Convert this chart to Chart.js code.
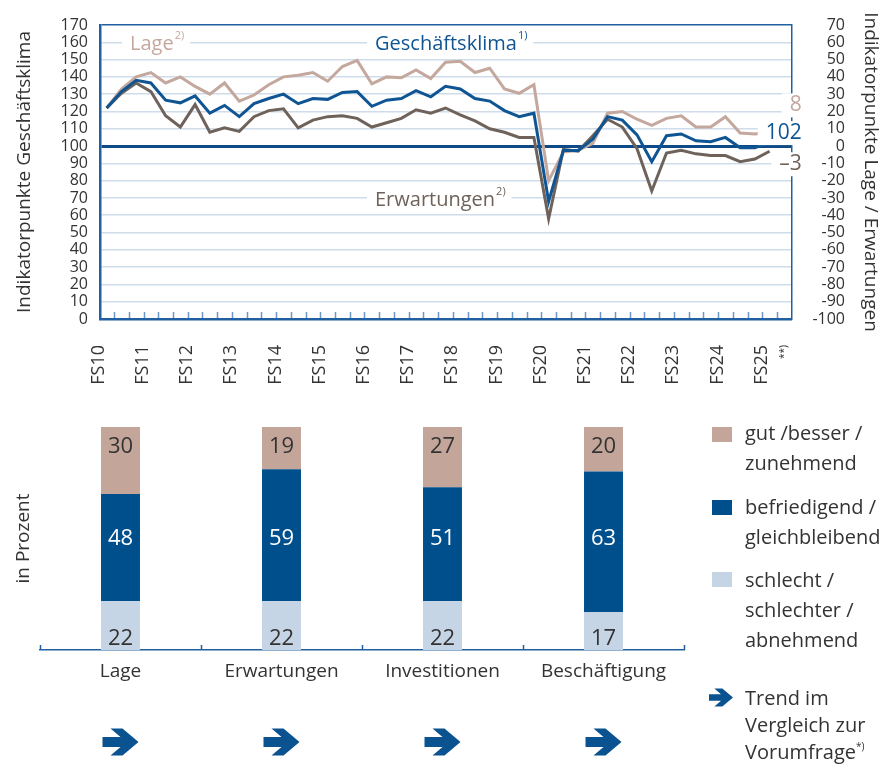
<!DOCTYPE html>
<html lang="de">
<head>
<meta charset="utf-8">
<script src="https://cdn.jsdelivr.net/npm/chart.js@4.4.1/dist/chart.umd.min.js"></script>
<style>
  html, body { margin: 0; padding: 0; background: #fff; }
  body { width: 896px; height: 767px; position: relative; overflow: hidden; font-family: "Open Sans", sans-serif; color: #333; }
  #topWrap { position: absolute; left: 0; top: 0; width: 896px; height: 400px; }
  #barWrap { position: absolute; left: 0; top: 400px; width: 896px; height: 367px; }
  .sw { position: absolute; left: 712px; width: 20px; height: 15px; }
  .lg { position: absolute; left: 745px; font-size: 20px; line-height: 30px; white-space: nowrap; color: #333; }
  .lg sup { font-size: 10px; vertical-align: 9px; line-height: 0; }
  #trendArrow { position: absolute; left: 709px; top: 688px; }
</style>
</head>
<body>
<div id="topWrap"><canvas id="klimaChart"></canvas></div>
<div id="barWrap"><canvas id="barChart"></canvas></div>

<div class="sw" style="top:427px;background:#c3a59a"></div>
<div class="lg" style="top:418px">gut /besser /<br>zunehmend</div>
<div class="sw" style="top:500px;background:#004f8d"></div>
<div class="lg" style="top:492px">befriedigend /<br>gleichbleibend</div>
<div class="sw" style="top:572px;background:#c6d5e6"></div>
<div class="lg" style="top:565px">schlecht /<br>schlechter /<br>abnehmend</div>
<svg id="trendArrow" width="24" height="19" viewBox="-18 -13.5 36 27"><polygon fill="#0a5290" points="-18,-5 0,-5 -10,-13.5 2,-13.5 18,0 2,13.5 -10,13.5 0,5 -18,5"/></svg>
<div class="lg" style="top:684px;line-height:27px">Trend im<br>Vergleich zur<br>Vorumfrage<sup>*)</sup></div>

<script>
// Konjunkturumfrage, drei Umfragen pro Jahr (FS10 ... FS25)
const years = ['FS10','FS11','FS12','FS13','FS14','FS15','FS16','FS17','FS18','FS19','FS20','FS21','FS22','FS23','FS24','FS25'];
const klima = [122,131.5,138,136.5,126.5,125,129,119,123.5,117,124.5,127.5,130,124.5,127.5,127,
  131,131.5,123,126.5,127.5,132,128.5,134.5,133,127.5,126,120.5,117,119,
  68,97.5,97.5,104,117,115,106.5,91,106,107,103,102.5,105,99,99,102];
const lage = [22,33,40,42.5,36.5,40,34.5,30,36.5,26,29.5,35.5,40,41,42.5,37.5,
  46,49.5,36,40,39.5,44,39,48.5,49,42.5,45,33,30.5,35.5,
  -20,-3.5,-2.5,1.5,19,20,15.5,12,16,17.5,11,11,17,7.5,7,8];
const erwartungen = [22,30.5,36.5,31.5,17.5,11,24,8,10.5,8.5,17,20.5,21.5,10.5,15,17,
  17.5,16,11,13.5,16,21,19,22,18,14.5,10,8,5,5,
  -42,-2,-3,6,15.5,11,-1.5,-26,-4,-2.5,-4.5,-5.5,-5.5,-9,-7.5,-3];

// aktuelle Umfrage in Prozent
const barCats = ['Lage','Erwartungen','Investitionen','Beschäftigung'];
const gut = [30,19,27,20];
const befriedigend = [48,59,51,63];
const schlecht = [22,22,22,17];

const BLUE = '#0f5593', LAGE = '#c4a89e', ERW = '#6e625b', FRAME = '#2160a0';
Chart.defaults.font.family = '"Open Sans", sans-serif';
Chart.defaults.color = '#333';

function tag(ctx, text, sup, x, y, color, size, align) {
    ctx.font = size + 'px "Open Sans", sans-serif';
    const w1 = ctx.measureText(text).width;
    ctx.font = '11px "Open Sans", sans-serif';
    const w2 = sup ? ctx.measureText(sup).width + 1 : 0;
    const x0 = align === 'right' ? x - w1 - w2 : x;
    ctx.fillStyle = '#fff';
    ctx.fillRect(x0 - 8, y - 12, w1 + w2 + 14, 24);
    ctx.fillStyle = color;
    ctx.textBaseline = 'middle';
    ctx.textAlign = 'left';
    ctx.font = size + 'px "Open Sans", sans-serif';
    ctx.fillText(text, x0, y);
    if (sup) {
        ctx.font = '11px "Open Sans", sans-serif';
        ctx.fillText(sup, x0 + w1 + 1, y - 8);
    }
}

function drawArrow(ctx, cx, cy, s) {
    const pts = [[-18,-5],[0,-5],[-10,-13.5],[2,-13.5],[18,0],[2,13.5],[-10,13.5],[0,5],[-18,5]];
    ctx.beginPath();
    pts.forEach(([px, py], k) => k ? ctx.lineTo(cx + px * s, cy + py * s) : ctx.moveTo(cx + px * s, cy + py * s));
    ctx.closePath();
    ctx.fill();
}

// inner tick marks and text labels of the line chart
const klimaDecor = {
    id: 'klimaDecor',
    afterDraw(chart) {
        const { ctx, chartArea, scales: { x, y } } = chart;
        ctx.save();
        ctx.strokeStyle = '#6b97c6';
        ctx.lineWidth = 1.5;
        for (let i = 0; i < klima.length; i++) {
            const px = Math.round(x.getPixelForValue(i + 0.5)) + 0.5;
            ctx.beginPath();
            ctx.moveTo(px, chartArea.bottom - 1);
            ctx.lineTo(px, chartArea.bottom - 7);
            ctx.stroke();
        }
        tag(ctx, 'Lage', '2)', 130, y.getPixelForValue(160) + 2, LAGE, 20);
        tag(ctx, 'Geschäftsklima', '1)', 375, y.getPixelForValue(160) + 2, BLUE, 20);
        tag(ctx, 'Erwartungen', '2)', 375, y.getPixelForValue(70) + 2, ERW, 20);
        const xr = chartArea.right + 10;
        tag(ctx, String(lage[lage.length - 1]), '', xr, y.getPixelForValue(123.5), LAGE, 21, 'right');
        tag(ctx, String(klima[klima.length - 1]), '', xr, y.getPixelForValue(107.5), BLUE, 21, 'right');
        tag(ctx, '\u2013' + Math.abs(erwartungen[erwartungen.length - 1]), '', xr, y.getPixelForValue(89.5), ERW, 21, 'right');
        ctx.restore();
    }
};

new Chart(document.getElementById('klimaChart'), {
    type: 'line',
    data: {
        datasets: [
            { label: 'Geschäftsklima', data: klima.map((v, i) => ({ x: i, y: v })), yAxisID: 'y', borderColor: BLUE, borderWidth: 3 },
            { label: 'Erwartungen', data: erwartungen.map((v, i) => ({ x: i, y: v })), yAxisID: 'y2', borderColor: ERW, borderWidth: 3 },
            { label: 'Lage', data: lage.map((v, i) => ({ x: i, y: v })), yAxisID: 'y2', borderColor: LAGE, borderWidth: 3 }
        ]
    },
    options: {
        responsive: true,
        maintainAspectRatio: false,
        animation: false,
        layout: { padding: { top: 25, left: 0, right: 51, bottom: 0 } },
        elements: { point: { radius: 0 }, line: { tension: 0, borderJoinStyle: 'miter' } },
        plugins: { legend: { display: false }, tooltip: { enabled: false } },
        scales: {
            x: {
                type: 'linear', min: -0.455, max: 46.5,
                afterBuildTicks: s => { s.ticks = years.map((_, k) => ({ value: k * 3 })).concat({ value: 46.5 }); },
                afterFit: s => { s.height = 81; },
                grid: { display: false },
                border: { color: FRAME, width: 2.5 },
                ticks: {
                    autoSkip: false, minRotation: 90, maxRotation: 90, padding: 18, labelOffset: -8, color: '#333',
                    font: c => c.index === years.length ? { size: 10 } : { size: 18 },
                    callback: (v, i) => i < years.length ? years[i] : '**)'
                }
            },
            y: {
                position: 'left', min: 0, max: 170,
                afterFit: s => { s.width = 100; },
                border: { color: FRAME, width: 2.5 },
                grid: {
                    drawTicks: false,
                    color: c => c.tick.value === 100 ? '#0d4a86' : c.tick.value === 170 ? FRAME : '#cfdcea',
                    lineWidth: c => c.tick.value === 100 ? 3 : 1.5
                },
                ticks: { stepSize: 10, autoSkip: false, padding: 12, color: '#333', font: { size: 16 } },
                title: { display: true, text: 'Indikatorpunkte Geschäftsklima', color: '#333', font: { size: 19 }, padding: { top: 13 } }
            },
            y2: {
                position: 'right', min: -100, max: 70,
                afterFit: s => { s.width = 53.3; },
                border: { color: FRAME, width: 1.5 },
                grid: { display: false, drawTicks: false },
                ticks: { stepSize: 10, autoSkip: false, padding: 0, crossAlign: 'far', color: '#333', font: { size: 16 } },
                title: { display: true, text: 'Indikatorpunkte Lage / Erwartungen', color: '#333', font: { size: 19 }, padding: { top: -36.4 } }
            }
        }
    },
    plugins: [klimaDecor]
});

// value labels, axis marks and trend arrows of the bar chart
const barDecor = {
    id: 'barDecor',
    afterDraw(chart) {
        const { ctx, chartArea, scales: { x, y } } = chart;
        ctx.save();
        ctx.strokeStyle = FRAME;
        ctx.lineWidth = 1.5;
        const edges = [chartArea.left];
        for (let i = 0; i < barCats.length - 1; i++) edges.push((x.getPixelForValue(i) + x.getPixelForValue(i + 1)) / 2);
        edges.push(chartArea.right);
        edges.forEach(e => {
            const px = Math.round(e) + 0.5;
            ctx.beginPath();
            ctx.moveTo(px, chartArea.bottom);
            ctx.lineTo(px, chartArea.bottom - 5);
            ctx.stroke();
        });
        const labelAt = [5, 50, 91];
        ctx.font = '22px "Open Sans", sans-serif';
        ctx.textAlign = 'center';
        ctx.textBaseline = 'middle';
        chart.data.datasets.forEach((ds, d) => {
            ctx.fillStyle = d === 1 ? '#fff' : '#333';
            ds.data.forEach((v, i) => ctx.fillText(String(v), x.getPixelForValue(i), y.getPixelForValue(labelAt[d])));
        });
        ctx.fillStyle = '#0a5290';
        barCats.forEach((_, i) => drawArrow(ctx, x.getPixelForValue(i), chartArea.bottom + 92, 1));
        ctx.restore();
    }
};

new Chart(document.getElementById('barChart'), {
    type: 'bar',
    data: {
        labels: barCats,
        datasets: [
            { label: 'schlecht / schlechter / abnehmend', data: schlecht, backgroundColor: '#c6d5e6' },
            { label: 'befriedigend / gleichbleibend', data: befriedigend, backgroundColor: '#004f8d' },
            { label: 'gut / besser / zunehmend', data: gut, backgroundColor: '#c3a59a' }
        ]
    },
    options: {
        responsive: true,
        maintainAspectRatio: false,
        animation: false,
        layout: { padding: { top: 27, right: 212, left: 0, bottom: 0 } },
        datasets: { bar: { categoryPercentage: 1, barPercentage: 0.242 } },
        plugins: { legend: { display: false }, tooltip: { enabled: false } },
        scales: {
            x: {
                stacked: true,
                afterFit: s => { s.height = 117; },
                grid: { display: false },
                border: { color: FRAME, width: 1.5 },
                ticks: { color: '#333', font: { size: 19 }, padding: 2 }
            },
            y: {
                stacked: true, min: 0, max: 100,
                afterFit: s => { s.width = 40; },
                grid: { display: false },
                border: { display: false },
                ticks: { display: false },
                title: { display: true, text: 'in Prozent', color: '#333', font: { size: 19 }, padding: { top: 12 } }
            }
        }
    },
    plugins: [barDecor]
});
</script>
</body>
</html>
